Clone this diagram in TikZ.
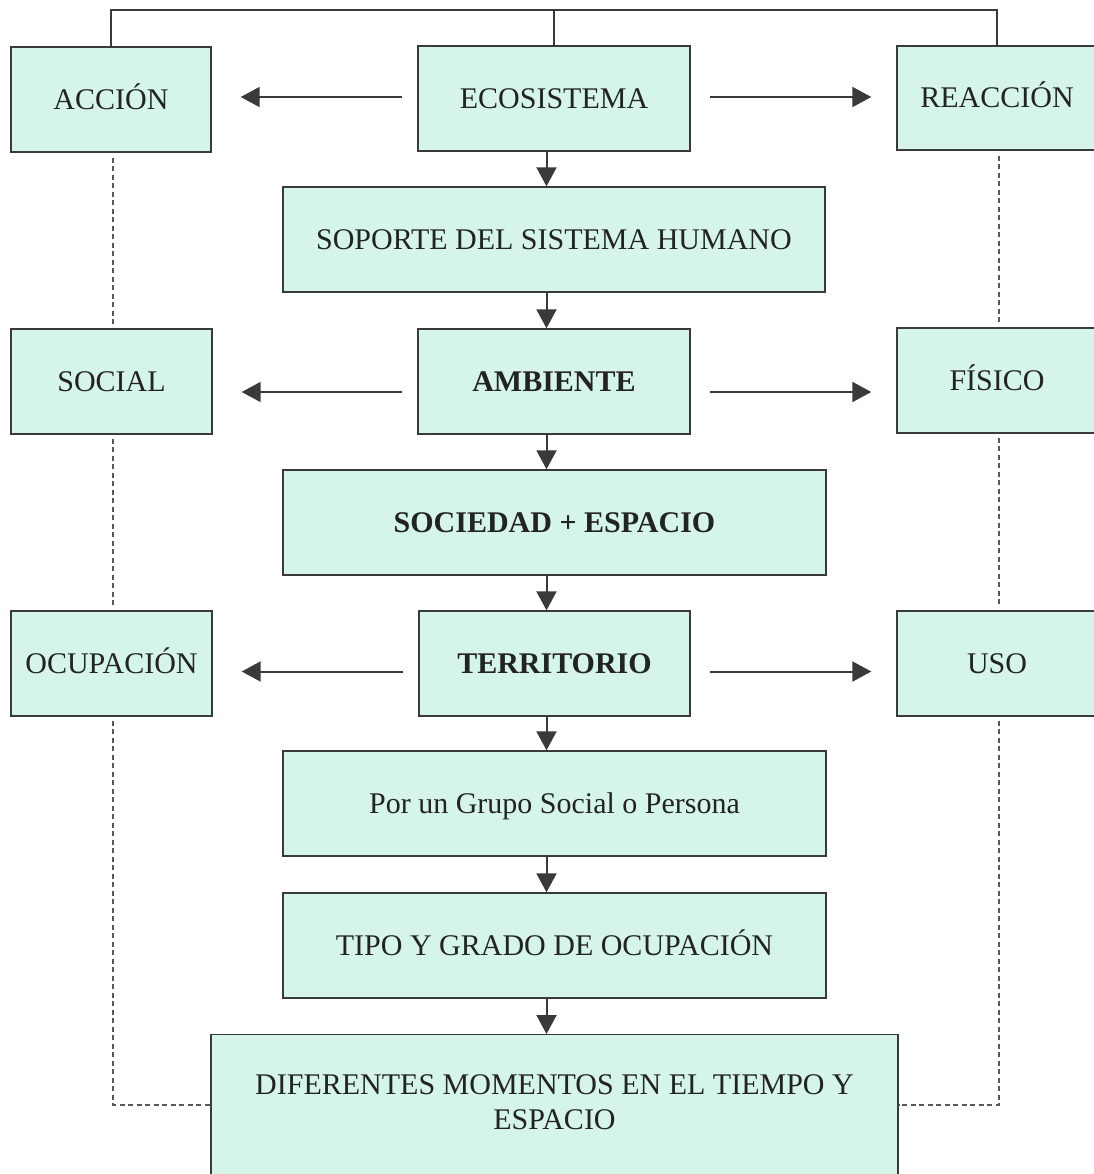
\documentclass[tikz,border=0pt]{standalone}
\usepackage{fontspec}
\setmainfont{Liberation Serif}
\usetikzlibrary{arrows.meta}
\definecolor{mint}{RGB}{213,245,235}
\definecolor{linec}{RGB}{58,58,58}
\definecolor{txtc}{RGB}{35,35,35}
\begin{document}
\begin{tikzpicture}[x=1pt,y=-1pt,
  boxbase/.style={draw=linec, line width=1.4pt, fill=mint, inner sep=0pt, text=txtc,
    font=\fontsize{30}{35}\selectfont, align=center},
  box/.style={boxbase, text height=20pt, text depth=0pt},
  bbox/.style={box, font=\fontsize{30}{35}\selectfont\bfseries},
  arr/.style={draw=linec, line width=2pt, -{Triangle[width=20pt,length=19pt]}},
  conn/.style={draw=linec, line width=1.6pt},
  dotline/.style={draw=linec!85, line width=1.2pt, dash pattern=on 5pt off 3.5pt}]
\useasboundingbox (0,0) rectangle (1093,1174);
% top row
\node[box, minimum width=200pt, minimum height=105pt] (acc) at (111,99.5) {ACCIÓN};
\node[box, minimum width=272pt, minimum height=105pt] (eco) at (554,98.5) {ECOSISTEMA};
\node[box, minimum width=200pt, minimum height=104pt] (rea) at (997,98) {REACCIÓN};
\node[box, minimum width=542pt, minimum height=105pt] (sop) at (554,239.5) {SOPORTE DEL SISTEMA HUMANO};
% second row
\node[box, minimum width=201pt, minimum height=105pt] (soc) at (111.5,381.5) {SOCIAL};
\node[bbox, minimum width=272pt, minimum height=105pt] (amb) at (554,381.5) {AMBIENTE};
\node[box, minimum width=200pt, minimum height=105pt] (fis) at (997,380.5) {FÍSICO};
\node[bbox, minimum width=543pt, minimum height=105pt] (sde) at (554.5,522.5) {SOCIEDAD + ESPACIO};
% third row
\node[box, minimum width=201pt, minimum height=105pt] (ocu) at (111.5,663.5) {OCUPACIÓN};
\node[bbox, minimum width=271pt, minimum height=105pt] (ter) at (554.5,663.5) {TERRITORIO};
\node[box, minimum width=200pt, minimum height=105pt] (uso) at (997,663.5) {USO};
\node[box, minimum width=543pt, minimum height=105pt] (gru) at (554.5,803.5) {Por un Grupo Social o Persona};
\node[box, minimum width=543pt, minimum height=105pt] (tip) at (554.5,945.5) {TIPO Y GRADO DE OCUPACIÓN};
\node[boxbase, minimum width=687pt, inner ysep=40pt, text depth=20pt, anchor=north] (dif) at (554.5,1034) {DIFERENTES MOMENTOS EN EL TIEMPO Y\\ESPACIO};
% top connector
\coordinate (tl) at (111,10);
\draw[conn] (acc.north) -- (acc.north |- tl) -- (rea.north |- tl) -- (rea.north);
\draw[conn] (eco.north) -- (eco.north |- tl);
% horizontal arrows
\draw[arr, shorten <=15pt, shorten >=29pt] ([yshift=1.5pt]eco.west) -- ([yshift=1.5pt]eco.west -| acc.east);
\draw[arr, shorten <=19pt, shorten >=25pt] ([yshift=1.5pt]eco.east) -- ([yshift=1.5pt]eco.east -| rea.west);
\draw[arr, shorten <=15pt, shorten >=29pt] ([yshift=-10.5pt]amb.west) -- ([yshift=-10.5pt]amb.west -| soc.east);
\draw[arr, shorten <=19pt, shorten >=25pt] ([yshift=-10.5pt]amb.east) -- ([yshift=-10.5pt]amb.east -| fis.west);
\draw[arr, shorten <=15pt, shorten >=29pt] ([yshift=-8pt]ter.west) -- ([yshift=-8pt]ter.west -| ocu.east);
\draw[arr, shorten <=19pt, shorten >=25pt] ([yshift=-8pt]ter.east) -- ([yshift=-8pt]ter.east -| uso.west);
% vertical arrows
\draw[arr] ([xshift=-7.5pt]eco.south) -- ([xshift=-7.5pt]eco.south |- sop.north);
\draw[arr] ([xshift=-7.5pt]eco.south |- sop.south) -- ([xshift=-7.5pt]eco.south |- amb.north);
\draw[arr] ([xshift=-7.5pt]eco.south |- amb.south) -- ([xshift=-7.5pt]eco.south |- sde.north);
\draw[arr] ([xshift=-7.5pt]eco.south |- sde.south) -- ([xshift=-7.5pt]eco.south |- ter.north);
\draw[arr] ([xshift=-7.5pt]eco.south |- ter.south) -- ([xshift=-7.5pt]eco.south |- gru.north);
\draw[arr] ([xshift=-7.5pt]eco.south |- gru.south) -- ([xshift=-7.5pt]eco.south |- tip.north);
\draw[arr] ([xshift=-7.5pt]eco.south |- tip.south) -- ([xshift=-7.5pt]eco.south |- dif.north);
% dashed side lines
\coordinate (dl) at (113,1105);
\coordinate (dr) at (999,1105);
\draw[dotline] (dl |- acc.south) ++(0,5) -- ([yshift=4pt]dl |- soc.north);
\draw[dotline] (dl |- soc.south) ++(0,4) -- ([yshift=4pt]dl |- ocu.north);
\draw[dotline] (dl |- ocu.south) ++(0,4) -- (dl) -- (dl -| dif.west);
\draw[dotline] (dr |- rea.south) ++(0,5) -- ([yshift=4pt]dr |- fis.north);
\draw[dotline] (dr |- fis.south) ++(0,4) -- ([yshift=4pt]dr |- uso.north);
\draw[dotline] (dr |- uso.south) ++(0,4) -- (dr) -- (dr -| dif.east);
\end{tikzpicture}
\end{document}
